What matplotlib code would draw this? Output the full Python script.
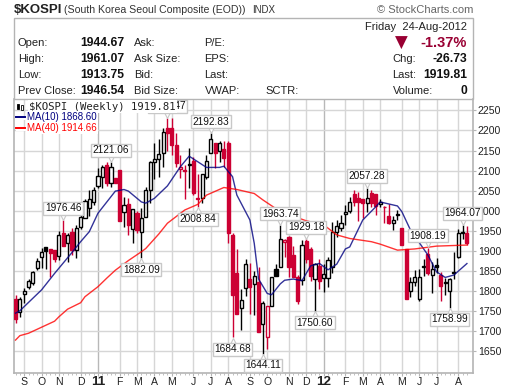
import matplotlib
matplotlib.use('Agg')
import matplotlib.pyplot as plt
from matplotlib.lines import Line2D
from matplotlib.patches import Rectangle
from matplotlib.transforms import offset_copy

plt.rcParams['font.family'] = ['Liberation Sans', 'DejaVu Sans']

W, H = 511, 389

# weekly candles, Aug 2010 - Aug 2012
opens = [1780, 1748, 1792, 1811, 1821, 1857, 1884, 1909, 1904, 1902,
         1888, 1945, 1919, 1948, 1902, 1960, 1981, 2008, 2022, 2062,
         2085, 2114, 2068, 2081, 2101, 1998, 2017, 1954, 1995, 1948,
         1985, 2053, 2122, 2128, 2145, 2205, 2205, 2164, 2103, 2101,
         2116, 2125, 2031, 2033, 2085, 2143, 2170, 2150, 2153, 2170,
         1940, 1844, 1757, 1807, 1829, 1817, 1822, 1717, 1685, 1762,
         1856, 1860, 1922, 1934, 1890, 1835, 1828, 1925, 1905, 1830,
         1862, 1832, 1832, 1861, 1946, 1956, 1992, 2000, 2042, 2033,
         2029, 2019, 2044, 2042, 2018, 2010, 1987, 1970, 1989, 1956,
         1905, 1801, 1822, 1780, 1861, 1892, 1841, 1865, 1840, 1821,
         1799, 1848, 1884, 1944, 1944.67]
highs = [1790, 1785, 1807, 1830, 1850, 1883, 1907, 1910, 1904, 1902,
         1950, 1976.46, 1945, 1958, 1964, 1990, 2030, 2052, 2060, 2106,
         2114, 2122, 2121.06, 2081, 2101, 2034, 2032, 2004, 2000, 2007,
         2058, 2125, 2168, 2180, 2206, 2231.47, 2231, 2193, 2139, 2114,
         2156, 2135, 2091, 2091, 2140, 2192.83, 2170, 2175, 2175, 2175,
         1945, 1906, 1804, 1880, 1870, 1850, 1860, 1776, 1762, 1834,
         1867, 1963.74, 1930, 1938, 1912, 1840, 1927, 1929.18, 1910, 1870,
         1880, 1867, 1885, 1973, 1977, 1990, 2014, 2035, 2052, 2048,
         2030, 2057.28, 2053, 2042, 2030, 2011, 2018, 1987, 2002, 1956,
         1905, 1835, 1853, 1855, 1880, 1908.19, 1872, 1883, 1848, 1833,
         1833, 1897, 1955, 1964.07, 1961.07]
lows = [1720, 1735, 1770, 1805, 1816, 1852, 1857, 1854, 1836, 1873,
        1877, 1912, 1873, 1890, 1882, 1955, 1981, 1987, 2015, 2057,
        2057, 2062, 2060, 2070, 1975, 1960, 1940, 1920, 1945, 1882.09,
        1985, 2020, 2078, 2085, 2110, 2150, 2139, 2110, 2082, 2029,
        2056, 2040, 2008.84, 2019, 2080, 2143, 2106, 2121, 2110, 1919,
        1684.68, 1743, 1703, 1787, 1743, 1740, 1697, 1644.11, 1656, 1762,
        1838, 1860, 1885, 1836, 1836, 1768, 1815, 1870, 1825, 1750.60,
        1805, 1797, 1810, 1845, 1935, 1950, 1964, 1995, 2012, 1975,
        1982, 1998, 2010, 1990, 2010, 1970, 1968, 1952, 1977, 1915,
        1780, 1785, 1813, 1775, 1838, 1840, 1795, 1845, 1775, 1790,
        1758.99, 1830, 1882, 1930, 1913.75]
closes = [1730, 1780, 1801, 1826, 1847, 1876, 1897, 1900, 1896, 1880,
          1940, 1912, 1940, 1902, 1958, 1985, 2025, 2029, 2052, 2087,
          2108, 2068, 2108, 2070, 1975, 2014, 1965, 2004, 1952, 1981,
          2053, 2121, 2128, 2141, 2197, 2193, 2164, 2120, 2110, 2100,
          2114, 2045, 2029, 2091, 2125, 2180, 2143, 2170, 2132, 1944,
          1790, 1743, 1779, 1867, 1811, 1838, 1697, 1770, 1762, 1834,
          1838, 1930, 1928, 1861, 1836, 1776, 1916, 1880, 1838, 1867,
          1824, 1842, 1877, 1948, 1962, 1970, 1996, 2023, 2022, 2021,
          2020, 2033, 2019, 2012, 2021, 2009, 1970, 1977, 1991, 1915,
          1780, 1823, 1835, 1836, 1863, 1845, 1855, 1859, 1812, 1823,
          1830, 1846, 1944, 1946.54, 1919.81]

ma10_x = [0, 1, 6, 9, 13, 15, 17, 19, 23, 25, 26, 29, 30, 32, 35, 38, 40, 42, 44, 47, 48,
          50, 51, 54, 55, 56, 58, 59, 61, 62, 64, 66, 68, 70, 72, 74, 76, 77, 80, 83, 84,
          88, 89, 91, 95, 97, 99, 101, 104]
ma10_y = [1745, 1751, 1803, 1844, 1896, 1923, 1948, 1994, 2049, 2053, 2049, 2022, 2019, 2031, 2062, 2110, 2136, 2122, 2108, 2108, 2111,
          2085, 2039, 1977, 1919, 1830, 1794, 1791, 1818, 1827, 1830, 1826, 1863, 1869, 1853, 1867, 1905, 1910, 1977, 2010, 2022,
          2012, 1998, 1952, 1890, 1848, 1834, 1840, 1868.60]
ma40_x = [0, 1, 3, 6, 9, 10, 12, 15, 16, 19, 21, 23, 26, 29, 30, 33, 35, 39, 42, 44, 48, 51, 55,
          57, 61, 67, 71, 74, 77, 82, 84, 88, 92, 97, 104]
ma40_y = [1678, 1689, 1695, 1710, 1725, 1736, 1755, 1771, 1786, 1811, 1832, 1852, 1876, 1898, 1906, 1942, 1969, 2002, 2016, 2039, 2058, 2053, 2043,
          2027, 1998, 1975, 1965, 1940, 1931, 1923, 1917, 1902, 1905, 1912, 1914.66]

month_pos = [2, 6, 10, 15, 19, 24, 28, 32, 36, 41, 45, 49, 54, 58, 63, 67, 71, 76, 80, 84, 89, 93, 97, 102]
month_lab = ['S', 'O', 'N', 'D', '11', 'F', 'M', 'A', 'M', 'J', 'J', 'A', 'S', 'O', 'N', 'D', '12', 'F', 'M', 'A', 'M', 'J', 'J', 'A']
price_ticks = list(range(1650, 2251, 50))

high_marks = [(11, 1976.46), (22, 2121.06), (35, 2231.47), (45, 2192.83), (61, 1963.74),
              (67, 1929.18), (81, 2057.28), (95, 1908.19), (103, 1964.07)]
low_marks = [(29, 1882.09), (42, 2008.84), (50, 1684.68), (57, 1644.11), (69, 1750.60), (100, 1758.99)]

quote_rows = [('Open:', '1944.67', 'Ask:', 'P/E:'),
              ('High:', '1961.07', 'Ask Size:', 'EPS:'),
              ('Low:', '1913.75', 'Bid:', 'Last:'),
              ('Prev Close:', '1946.54', 'Bid Size:', 'VWAP:')]

RED = '#cc0033'
DARKRED = '#990033'
BLUE = '#000080'
MARED = '#ff0000'
GRID = '#d6d6d6'
EDGE = '#b4b4b4'


def fx(px):
    return px / W


def fy(py):
    return 1 - py / H


fig = plt.figure(figsize=(W / 100, H / 100), dpi=100)
ax = fig.add_axes([fx(14), fy(373), fx(459), 274 / H])

# candles
for i in range(len(closes)):
    prev = closes[i - 1] if i > 0 else opens[i]
    col = RED if closes[i] < prev else 'black'
    ax.vlines(i, lows[i], highs[i], color=col, lw=1, zorder=2)
    face = col if closes[i] < opens[i] else 'white'
    ax.bar(i, abs(closes[i] - opens[i]), bottom=min(opens[i], closes[i]), width=0.72,
           facecolor=face, edgecolor=col, lw=1, zorder=3)

ax.plot(ma10_x, ma10_y, color=BLUE, lw=1, alpha=0.8, zorder=4)
ax.plot(ma40_x, ma40_y, color=MARED, lw=1, alpha=0.8, zorder=4)

ax.set_xlim(-0.35, 105.4)
ax.set_ylim(1596, 2278.4)
ax.yaxis.tick_right()
ax.set_yticks(price_ticks)
ax.set_xticks(month_pos)
ax.set_xticklabels(month_lab, va='center')
ax.set_xticks(range(105), minor=True)
ax.tick_params(axis='y', labelsize=7.6, length=2, width=0.8, color=EDGE, pad=1.5, labelcolor='#222222')
ax.tick_params(axis='x', which='major', labelsize=7.6, length=2, width=0.8, color=EDGE, pad=4.5, labelcolor='#222222')
ax.tick_params(axis='x', which='minor', length=1.5, width=0.6, color=EDGE)
ax.grid(True, which='major', color=GRID, lw=1, zorder=0)
ax.set_axisbelow(True)
for lab, line, txt in zip(ax.get_xticklabels(), ax.get_xgridlines(), month_lab):
    if txt.isdigit():
        lab.set_fontweight('bold')
        lab.set_fontsize(9.6)
        lab.set_color('#222222')
        line.set_color('#b8b8b8')
ax.spines['top'].set_visible(False)
for side in ['left', 'right', 'bottom']:
    ax.spines[side].set_color(EDGE)
    ax.spines[side].set_linewidth(1.2)

# hi/lo callouts
for marks, sign in [(high_marks, 1), (low_marks, -1)]:
    for idx, val in marks:
        tri = offset_copy(ax.transData, fig=fig, x=0, y=sign * 3, units='points')
        ax.plot(idx, val, marker='v' if sign > 0 else '^', ms=6, mfc='white', mec='#c8c8c8', mew=0.8,
                transform=tri, clip_on=False, zorder=5)
        ax.annotate('%.2f' % val, (idx, val), xytext=(0, sign * 8.5), textcoords='offset points',
                    ha='center', va='center', fontsize=7.3, color='#111111',
                    bbox=dict(boxstyle='square,pad=0.15', fc='white', ec='#c8c8c8', lw=1), zorder=6)

# header
fig.add_artist(Rectangle((fx(14), fy(99)), fx(459), 81 / H, transform=fig.transFigure,
                         fill=False, ec=EDGE, lw=1))
fig.text(fx(14), fy(10), '$KOSPI', fontsize=9.5, fontweight='bold', color='#222222', va='center')
fig.text(fx(64.5), fy(10), '(South Korea Seoul Composite (EOD))', fontsize=7.6, color='#333333', va='center')
fig.text(fx(252), fy(10), 'INDX', fontsize=7, color='#333333', va='center')
fig.text(fx(473), fy(10), '\u00a9 StockCharts.com', fontsize=8, color='#666666', va='center', ha='right')

row_y = [43, 59, 75, 91]
for py, row in zip(row_y, quote_rows):
    fig.text(fx(18), fy(py), row[0], fontsize=8, color='#222222', va='center')
    fig.text(fx(80), fy(py), row[1], fontsize=8.7, fontweight='bold', color='#111111', va='center')
    fig.text(fx(134), fy(py), row[2], fontsize=8, color='#222222', va='center')
    fig.text(fx(204.5), fy(py), row[3], fontsize=8, color='#222222', va='center')
fig.text(fx(265), fy(91), 'SCTR:', fontsize=8, color='#222222', va='center')

fig.text(fx(467), fy(27), 'Friday  24-Aug-2012', fontsize=8, color='#222222', va='center', ha='right')
fig.text(fx(401.5), fy(42.5), '\u25bc', fontsize=12, color=DARKRED, va='center', ha='center', family='DejaVu Sans')
fig.text(fx(467), fy(43), '-1.37%', fontsize=10.5, fontweight='bold', color=DARKRED, va='center', ha='right')
for py, name, val in [(59, 'Chg:', '-26.73'), (75, 'Last:', '1919.81'), (91, 'Volume:', '0')]:
    fig.text(fx(392.5), fy(py), name, fontsize=8, color='#222222', va='center')
    fig.text(fx(467), fy(py), val, fontsize=8.7, fontweight='bold', color='#111111', va='center', ha='right')

# legend
white = dict(fc='white', ec='none', pad=1)
fig.text(fx(29), fy(106.5), '$KOSPI (Weekly) 1919.81', fontsize=7.7, family='DejaVu Sans Mono',
         color='#222222', va='center', bbox=white, zorder=7)
fig.text(fx(27), fy(117), 'MA(10) 1868.60', fontsize=7, color=BLUE, va='center', bbox=white, zorder=7)
fig.text(fx(27), fy(128), 'MA(40) 1914.66', fontsize=7, color=MARED, va='center', bbox=white, zorder=7)
fig.add_artist(Rectangle((fx(16), fy(120)), fx(10), 4 / H, transform=fig.transFigure, fc='white', ec='none', zorder=7))
fig.add_artist(Rectangle((fx(16), fy(131)), fx(10), 4 / H, transform=fig.transFigure, fc='white', ec='none', zorder=7))
fig.add_artist(Line2D([fx(16), fx(25)], [fy(117)] * 2, color=BLUE, lw=1.4, zorder=8))
fig.add_artist(Line2D([fx(16), fx(25)], [fy(128)] * 2, color=MARED, lw=1.4, zorder=8))
fig.add_artist(Rectangle((fx(16.5), fy(109)), fx(2.5), 5 / H, transform=fig.transFigure, fc='black', ec='black', lw=0.6, zorder=8))
fig.add_artist(Rectangle((fx(20.5), fy(110)), fx(2), 5 / H, transform=fig.transFigure, fc='white', ec='black', lw=0.6, zorder=8))

fig.savefig('out.png', dpi=100)
